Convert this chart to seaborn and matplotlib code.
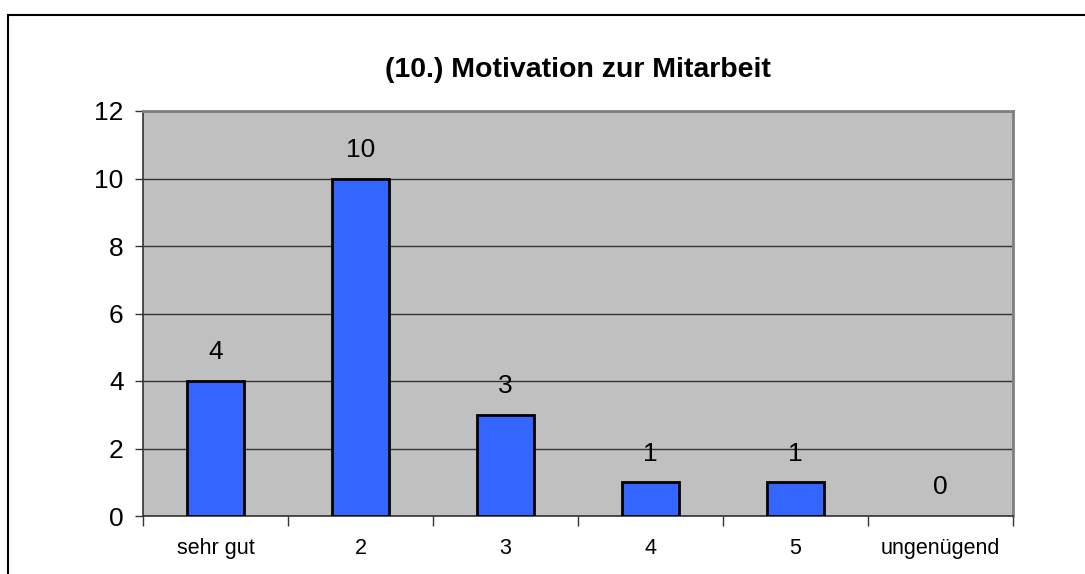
import matplotlib
matplotlib.use("Agg")
import matplotlib.pyplot as plt
import seaborn as sns
import pandas as pd
from matplotlib.patches import Rectangle

categories = ["sehr gut", "2", "3", "4", "5", "ungenügend"]
values = [4, 10, 3, 1, 1, 0]
yticks = [0, 2, 4, 6, 8, 10, 12]
title = "(10.) Motivation zur Mitarbeit"

sns.set_theme(style="white")
plt.rcParams['font.family'] = ['Liberation Sans', 'DejaVu Sans']
plt.rcParams['text.color'] = 'black'
plt.rcParams['xtick.color'] = 'black'
plt.rcParams['ytick.color'] = 'black'
plt.rcParams['xtick.labelcolor'] = 'black'
plt.rcParams['ytick.labelcolor'] = 'black'

df = pd.DataFrame({"cat": categories, "val": values})

fig = plt.figure(figsize=(10.85, 5.74), dpi=100)
ax = fig.add_axes([143/1085, 1-516/574, (1013-143)/1085, (516-111)/574])
ax.set_facecolor("#C0C0C0")

sns.barplot(data=df, x="cat", y="val", ax=ax, color="#3366FF", width=0.39,
            edgecolor="black", linewidth=2, saturation=1, zorder=3)
for p in ax.patches:
    if p.get_height() == 0:
        p.set_visible(False)

ax.set_ylim(0, 12)
ax.set_yticks(yticks)
ax.set_yticklabels([str(t) for t in yticks], fontsize=19)
ax.yaxis.grid(True, color="#333333", linewidth=1, zorder=1)
ax.set_axisbelow(True)
ax.set_xlim(-0.5, len(categories) - 0.5)
ax.set_xticks([i - 0.5 for i in range(len(categories) + 1)], minor=False)
ax.set_xticklabels([])
ax.set_xticks(range(len(categories)), minor=True)
ax.set_xticklabels(categories, minor=True, fontsize=15.5)
ax.tick_params(axis="x", which="major", direction="out", length=7, width=1, color="#333333", bottom=True)
ax.tick_params(axis="x", which="minor", length=0, pad=16)
ax.tick_params(axis="y", direction="out", length=6, width=1, color="#333333", left=True, pad=8)
ax.set_xlabel("")
ax.set_ylabel("")

for s in ["left", "bottom"]:
    ax.spines[s].set_color("#333333")
    ax.spines[s].set_linewidth(1.2)
for s in ["top", "right"]:
    ax.spines[s].set_color("#808080")
    ax.spines[s].set_linewidth(2)
    ax.spines[s].set_visible(True)

for i, v in enumerate(values):
    ax.annotate(str(v), xy=(i, v), xytext=(0, 12), textcoords="offset points",
                ha="center", va="bottom", fontsize=19, color="black")

fig.text(578/1085, 1-70/574, title, ha="center", va="center", fontsize=20.5,
         fontweight="bold", color="black")

fig.patches.append(Rectangle((8/1085, -0.1), 1.2, (574-15)/574 + 0.1, transform=fig.transFigure,
                             fill=False, edgecolor="black", linewidth=1.5))

fig.savefig("out.png", dpi=100)
